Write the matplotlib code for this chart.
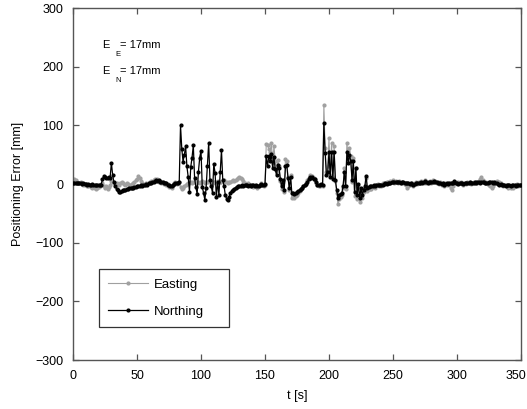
import numpy as np
import matplotlib
matplotlib.use("Agg")
import matplotlib.pyplot as plt
from matplotlib.transforms import ScaledTranslation

plt.rcParams['font.family'] = ['Liberation Sans', 'DejaVu Sans']

# time axis: one sample per second, 0..350 s
t = np.arange(0, 351)

# Northing error [mm]
northing = [
    2, 1, 2, 1, 2, 1, 1, 0, 1, 0,            # 0-9
    0, -1, 0, -1, -1, 0, -1, -2, -2, -1,     # 10-19
    -2, -1, -1, 8, 13, 12, 11, 10, 12, 11,   # 20-29
    36, 15, 3, -4, -8, -11, -14, -13, -12, -11,   # 30-39
    -10, -11, -9, -8, -7, -7, -6, -6, -5, -5,     # 40-49
    -4, -3, -4, -2, -3, -1, -2, 0, -1, 1,    # 50-59
    2, 1, 3, 4, 5, 6, 5, 6, 4, 3,            # 60-69
    3, 2, 1, 1, -1, -2, -4, -3, -2, 0,       # 70-79
    1, 1, 2, 3, 100, 60, 38, 50, 64, 30,     # 80-89
    12, -13, 29, 45, 66, 10, -5, -17, 21, 45,     # 90-99
    57, -5, -15, -27, -7, 30, 70, 7, -4, -15,     # 100-109
    34, 19, -22, 4, -19, 20, 58, 7, -3, -19,      # 110-119
    -25, -27, -22, -15, -12, -10, -8, -6, -5, -4,  # 120-129
    -4, -3, -2, -3, -2, -1, -2, -3, -2, -3,  # 130-139
    -1, -2, -3, -2, -4, -3, -2, 0, -1, -2,   # 140-149
    0, 48, 30, 48, 40, 51, 27, 46, 25, 15,   # 150-159
    32, 27, 8, -4, 7, -10, 30, 32, 10, -7,   # 160-169
    12, -16, -15, -17, -15, -14, -12, -10, -8, -6,  # 170-179
    -4, -2, 0, 3, 8, 12, 11, 12, 9, 8,       # 180-189
    3, -1, -2, -1, 0, -2, 104, 53, 15, 20,   # 190-199
    55, 12, 55, 9, 55, 7, -10, -24, -19, -17,     # 200-209
    -16, -4, 21, -4, 55, 36, 50, 39, 7, 39,  # 210-219
    -14, 27, -19, 0, -24, -7, -19, -10, -4, 14,   # 220-229
    -7, -5, -3, -4, -3, -2, -3, -1, -2, -2,  # 230-239
    -1, -2, -1, 0, 1, 0, 1, 2, 1, 3,         # 240-249
    4, 3, 4, 3, 4, 3, 2, 3, 3, 2,            # 250-259
    1, 2, 1, 0, 1, 0, -1, 0, 1, 2,           # 260-269
    1, 2, 3, 2, 3, 5, 3, 2, 3, 4,            # 270-279
    3, 4, 5, 4, 3, 2, 1, 1, 0, 1,            # 280-289
    -1, 0, 1, 0, 1, 2, 1, 2, 5, 2,           # 290-299
    1, 0, 1, 2, 1, 0, 1, 2, 1, 2,            # 300-309
    3, 2, 1, 2, 3, 2, 4, 3, 2, 3,            # 310-319
    4, 3, 2, 1, 2, 3, 4, 3, 2, 3,            # 320-329
    2, 1, 0, -1, 0, -1, -2, -1, -3, -2,      # 330-339
    -1, -2, -3, -2, -1, -2, -3, -1, -2, -1,  # 340-349
    -1,                                      # 350
]

# Easting error [mm]
easting = [
    3, 8, 6, 4, 2, 1, 3, 0, -1, -2,          # 0-9
    0, -3, -4, -2, -5, -6, -4, -7, -8, -6,   # 10-19
    -5, -3, -2, 2, -4, -6, -3, -8, -5, -2,   # 20-29
    5, 3, 1, 0, 2, 0, -1, 1, 3, 2,           # 30-39
    0, -1, 1, 0, -2, -1, 0, 2, 4, 6,         # 40-49
    8, 13, 10, 5, 2, 0, -2, 1, 0, 2,         # 50-59
    3, 5, 4, 7, 9, 6, 8, 4, 5, 2,            # 60-69
    4, 0, 1, -2, 0, -5, -3, -6, -1, 1,       # 70-79
    3, 0, 2, 4, -5, -8, -6, -4, -2, 0,       # 80-89
    2, 1, 3, 2, 4, 3, 1, 3, 4, 2,            # 90-99
    3, 5, 4, 2, 3, 4, 3, 5, 4, 2,            # 100-109
    3, 4, 3, 5, 4, 3, 4, 5, 6, 4,            # 110-119
    3, 2, 3, 4, 5, 6, 5, 7, 8, 10,           # 120-129
    12, 11, 9, 5, 2, 0, -1, 1, -2, -4,       # 130-139
    -3, -5, -2, -4, -6, -3, -1, 1, -2, -4,   # 140-149
    -1, 68, 66, 60, 55, 70, 35, 64, 40, 22,  # 150-159
    41, 30, 5, -8, 3, -14, 42, 40, 12, -10,  # 160-169
    15, -24, -22, -24, -20, -18, -15, -12, -9, -6,  # 170-179
    -4, -1, 2, 6, 10, 15, 13, 14, 11, 7,     # 180-189
    2, -2, -4, -3, -1, -3, 134, 62, 20, 30,  # 190-199
    78, 15, 70, 12, 64, 5, -15, -34, -26, -22,    # 200-209
    -19, -6, 28, -8, 70, 45, 62, 48, 4, 45,  # 210-219
    -20, 27, -25, -3, -31, -12, -24, -14, -8, 10,  # 220-229
    -12, -9, -8, -8, -5, -3, -6, -2, 0, -3,  # 230-239
    -1, -4, 1, 2, 0, 3, 4, 2, 5, 3,          # 240-249
    6, 2, 5, 4, 2, 5, 1, 4, 2, 0,            # 250-259
    -2, -6, -3, -1, 2, 1, -3, 2, 3, 0,       # 260-269
    4, 1, 5, 3, 1, 6, 2, 4, 1, 5,            # 270-279
    2, 6, 3, 5, 2, 4, 0, 3, -1, 2,           # 280-289
    -3, 1, -2, 2, -1, -6, -10, -3, 2, 4,     # 290-299
    0, 3, 1, 3, 0, -2, 2, 0, 3, 1,           # 300-309
    4, 0, 2, 4, 1, 3, 2, 5, 8, 12,           # 310-319
    6, 3, 1, 3, 0, -2, -4, -6, -3, 1,        # 320-329
    3, 5, 2, 4, 1, -1, -3, -2, -1, -4,       # 330-339
    -6, -5, -6, -4, -6, -3, -1, 0, -3, -2,   # 340-349
    -1,                                      # 350
]

xticks = [0, 50, 100, 150, 200, 250, 300, 350]
yticks = [-300, -200, -100, 0, 100, 200, 300]

fig = plt.figure(figsize=(5.27, 4.09), dpi=100)
ax = fig.add_axes([0.1385, 0.1198, 0.8501, 0.8606])

ax.plot(t, easting, color='#a0a0a0', lw=0.8, marker='o', ms=2.0,
        mec='#a0a0a0', mfc='#a0a0a0', label='Easting', zorder=2)
ax.plot(t, northing, color='black', lw=0.9, marker='o', ms=2.0,
        mec='black', mfc='black', label='Northing', zorder=3)

ax.set_xlim(0, 350)
ax.set_ylim(-300, 300)
ax.set_xticks(xticks)
ax.set_yticks(yticks)
ax.set_yticklabels([str(v).replace('-', '\u2212') for v in yticks])

for s in ax.spines.values():
    s.set_color('#555555')
    s.set_linewidth(1.0)
ax.tick_params(direction='in', top=True, right=True, length=4, width=0.9,
               color='#555555', labelsize=9, pad=7)

# keep the last x label inside the picture
last = ax.get_xticklabels()[-1]
last.set_transform(last.get_transform() + ScaledTranslation(-5 / 100, 0, fig.dpi_scale_trans))

ax.set_xlabel('t [s]', fontsize=9, labelpad=6)
ax.set_ylabel('Positioning Error [mm]', fontsize=9, labelpad=8)

# error annotations
tr = ax.transAxes
ax.text(0.066, 0.895, 'E', transform=tr, fontsize=8, va='center')
ax.text(0.094, 0.867, 'E', transform=tr, fontsize=5.5, va='center')
ax.text(0.106, 0.895, '= 17mm', transform=tr, fontsize=8, va='center')
ax.text(0.066, 0.821, 'E', transform=tr, fontsize=8, va='center')
ax.text(0.094, 0.793, 'N', transform=tr, fontsize=5.5, va='center')
ax.text(0.106, 0.821, '= 17mm', transform=tr, fontsize=8, va='center')

leg = ax.legend(loc='upper left', bbox_to_anchor=(0.058, 0.258, 0.29, 0.0),
                mode='expand', borderaxespad=0, fontsize=9.5, handlelength=3.0,
                labelspacing=1.1, borderpad=0.72, handletextpad=0.45,
                fancybox=False, framealpha=1, edgecolor='#333333')
leg.get_frame().set_linewidth(0.9)

fig.savefig('out.png', dpi=100)
